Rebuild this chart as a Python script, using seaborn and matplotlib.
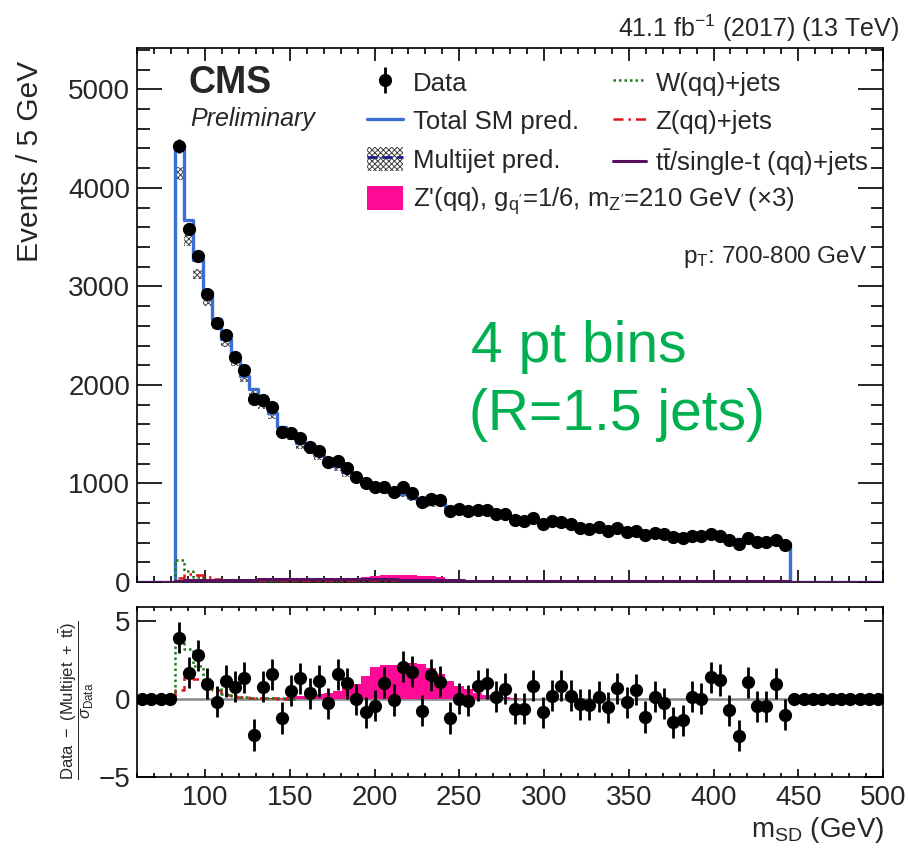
import numpy as np
import matplotlib
matplotlib.use("Agg")
import matplotlib.pyplot as plt
import seaborn as sns
from matplotlib.patches import Patch
from matplotlib.lines import Line2D
from matplotlib.ticker import MultipleLocator, NullLocator

# ---------------- data ----------------
bin_lo, bin_width, n_bins = 60.0, 5.5, 80     # m_SD binning of the axis
first_bin = 4                                  # first filled bin (82 GeV)

data = [4425, 3582, 3308, 2923, 2625, 2510, 2287, 2151, 1854, 1847,
        1779, 1525, 1515, 1458, 1367, 1333, 1221, 1231, 1154, 1069,
        1001, 961, 967, 916, 961, 906, 808, 842, 832, 724,
        744, 717, 731, 731, 690, 687, 629, 622, 653, 585,
        619, 605, 585, 551, 541, 555, 521, 551, 504, 521,
        474, 494, 484, 457, 443, 467, 467, 490, 470, 426,
        386, 443, 409, 406, 426, 375]

multijet = [4149, 3464, 3128, 2849, 2613, 2429, 2225, 2063, 1928, 1786,
            1684, 1544, 1465, 1377, 1322, 1258, 1197, 1141, 1085, 1036,
            996, 944, 906, 892, 872, 831, 809, 778, 781, 740,
            727, 704, 693, 689, 672, 657, 632, 625, 619, 593,
            602, 573, 568, 549, 539, 541, 523, 526, 499, 498,
            490, 482, 482, 481, 464, 455, 460, 452, 436, 434,
            425, 414, 412, 409, 400, 388]

top_jets = [14, 16, 18, 20, 21, 22, 23, 24, 25, 26, 27, 28, 29, 30, 31, 32,
            33, 34, 34, 33, 32, 30, 28, 26, 24, 22, 20, 19, 18, 17, 16, 15,
            15, 14, 14, 13, 13, 12, 12, 12, 11, 11, 11, 10, 10, 10, 10, 9,
            9, 9, 9, 8, 8, 8, 8, 8, 7, 7, 7, 7, 7, 6, 6, 6, 6, 6]

w_jets = [219, 107, 46, 16, 7, 3, 2, 1, 1, 1, 1, 1]      # bins 4..15
z_jets = [40, 84, 75, 54, 31, 14, 7, 5, 3, 2, 2, 1]      # bins 4..15

signal_first_bin = 14
signal_x3 = [2, 3, 5, 7, 9, 12, 13, 19, 27, 31, 47, 65, 68, 67, 71, 69,
             64, 59, 46, 31, 23, 17, 11, 8, 5, 3, 2, 1]

pulls = [3.94, 1.70, 2.81, 1.00, -0.17, 1.17, 0.81, 1.38, -2.30, 0.81,
         1.60, -1.21, 0.53, 1.34, 0.38, 1.17, -0.26, 1.60, 1.02, 0.00,
         -0.85, -0.43, 1.06, -0.05, 2.09, 1.77, -0.74, 1.55, 1.13, -1.21,
         0.02, -0.09, 0.85, 1.02, 0.17, 0.66, -0.62, -0.62, 0.85, -0.83,
         0.23, 0.85, 0.23, -0.32, -0.36, 0.17, -0.51, 0.70, -0.19, 0.60,
         -1.15, 0.17, -0.26, -1.49, -1.36, 0.17, 0.02, 1.40, 1.23, -0.72,
         -2.34, 1.09, -0.47, -0.47, 0.98, -1.00]

mj_rel_unc = 0.016
x_ticks = [100, 150, 200, 250, 300, 350, 400, 450, 500]

# ---------------- style ----------------
sns.set_theme(style="ticks")
plt.rcParams["font.family"] = ["Liberation Sans", "DejaVu Sans"]
plt.rcParams["mathtext.fontset"] = "custom"
plt.rcParams["mathtext.rm"] = "Liberation Sans"
plt.rcParams["mathtext.it"] = "Liberation Sans:italic"
plt.rcParams["mathtext.bf"] = "Liberation Sans:bold"
plt.rcParams["mathtext.sf"] = "Liberation Sans"
plt.rcParams["hatch.linewidth"] = 0.7
plt.rcParams["axes.edgecolor"] = "black"
plt.rcParams["axes.linewidth"] = 1.2

BLUE = "#3b6fd4"
PINK = "#ff0a96"
GREEN = "#1f7a1f"
RED = "#e0141a"
PURPLE = "#5a0f5e"

# ---------------- arrays ----------------
edges = bin_lo + bin_width * np.arange(n_bins + 1)
centers = 0.5 * (edges[:-1] + edges[1:])
edge_list = edges.tolist()
nd = len(data)
sl = slice(first_bin, first_bin + nd)

data_a = np.array(data, float)
sigma = np.sqrt(data_a)

def full(vals, start):
    arr = np.zeros(n_bins)
    arr[start:start + len(vals)] = vals
    return arr

mj_f = full(multijet, first_bin)
tt_f = full(top_jets, first_bin)
w_f = full(w_jets, first_bin)
z_f = full(z_jets, first_bin)
sig_f = full(signal_x3, signal_first_bin)
total_f = mj_f + tt_f + w_f + z_f

sigma_f = np.ones(n_bins)
sigma_f[sl] = sigma
pull_f = full(pulls, first_bin)
pull_err = np.zeros(n_bins)
pull_err[sl] = 1.0
sig_pull_f = sig_f / sigma_f
wz_pull_f = (w_f + z_f) / sigma_f
z_pull_f = z_f / sigma_f

# ---------------- figure ----------------
W, H = 909, 852
fig = plt.figure(figsize=(W / 100, H / 100), dpi=100)
def fx(p): return p / W
def fy(p): return 1 - p / H

ax = fig.add_axes([fx(137.3), fy(582), fx(883) - fx(137.3), fy(48) - fy(582)])
ax2 = fig.add_axes([fx(137.3), fy(777), fx(883) - fx(137.3), fy(607) - fy(777)])

def step(axis, w, bins, x=None, **kw):
    xx = centers if x is None else x
    sns.histplot(x=xx, weights=w, bins=bins, element="step", ax=axis, **kw)

# main panel
step(ax, sig_f, edge_list, fill=True, color=PINK, alpha=1, linewidth=0, zorder=2)
ax.bar(centers[sl], 2 * mj_rel_unc * np.array(multijet), bottom=np.array(multijet) * (1 - mj_rel_unc),
       width=bin_width, facecolor="white", edgecolor="0.25", hatch="xxxxxx", linewidth=0, zorder=3)
step(ax, total_f, edge_list, fill=False, color=BLUE, linewidth=2.4, zorder=4)
step(ax, w_f, edge_list, fill=False, color=GREEN, linewidth=1.8, linestyle=(0, (1, 1.2)), zorder=5)
step(ax, z_f, edge_list, fill=False, color=RED, linewidth=1.8, linestyle=(0, (4, 2, 1, 2)), zorder=5)
step(ax, tt_f, edge_list, fill=False, color=PURPLE, linewidth=2.2, zorder=6)
data_h = ax.errorbar(centers[sl], data_a, yerr=sigma, fmt="o", color="black",
                     ms=8.5, elinewidth=2, capsize=0, zorder=7)

ax.set_xlim(bin_lo, edges[-1])
ax.set_ylim(0, 5420)
ax.set_xlabel("")
ax.set_ylabel("Events / 5 GeV", fontsize=21.5)
ax.yaxis.set_label_coords(-0.125, 0.788)
ax.xaxis.set_major_locator(MultipleLocator(50))
ax.xaxis.set_minor_locator(MultipleLocator(10))
ax.yaxis.set_major_locator(MultipleLocator(1000))
ax.yaxis.set_minor_locator(MultipleLocator(200))
ax.tick_params(axis="both", which="both", direction="in", top=True, right=True, width=1.2, color="black")
ax.tick_params(axis="x", which="major", length=9, labelbottom=False)
ax.tick_params(axis="x", which="minor", length=4.5)
ax.tick_params(axis="y", which="major", length=18, labelsize=20, pad=5)
ax.tick_params(axis="y", which="minor", length=9)

# ratio panel
ax2.axhline(0, color="#888888", lw=1.8, zorder=1)
step(ax2, sig_pull_f, edge_list, fill=True, color=PINK, alpha=1, linewidth=0, zorder=2)
i0, i1 = first_bin - 1, first_bin + len(w_jets) + 1
sub_edges = edges[i0:i1 + 1].tolist()
step(ax2, wz_pull_f[i0:i1], sub_edges, x=centers[i0:i1], fill=False, color=GREEN,
     linewidth=1.8, linestyle=(0, (1, 1.2)), zorder=4)
step(ax2, z_pull_f[i0:i1], sub_edges, x=centers[i0:i1], fill=False, color=RED,
     linewidth=1.8, linestyle=(0, (3, 2)), zorder=3)
ax2.errorbar(centers, pull_f, yerr=pull_err, fmt="o", color="black",
             ms=8.5, elinewidth=2, capsize=0, zorder=6)

ax2.set_xlim(bin_lo, edges[-1])
ax2.set_ylim(-5, 5.92)
ax2.set_xticks(x_ticks)
ax2.set_xticklabels([str(t) for t in x_ticks])
ax2.xaxis.set_minor_locator(MultipleLocator(10))
ax2.set_yticks([-5, 0, 5])
ax2.set_yticklabels(["\u22125", "0", "5"])
ax2.yaxis.set_minor_locator(NullLocator())
ax2.tick_params(axis="both", which="both", direction="in", top=True, right=True, width=1.2, color="black")
ax2.tick_params(axis="x", which="major", length=6, labelsize=20, pad=6)
ax2.tick_params(axis="x", which="minor", length=3)
ax2.tick_params(axis="y", which="major", length=14, labelsize=20, pad=5)
ax2.set_xlabel("")
ax2.set_ylabel(r"$\dfrac{\mathrm{Data\ -\ (Multijet\ +\ t\bar{t})}}{\sigma_{\mathrm{Data}}}$", fontsize=12)
ax2.yaxis.set_label_coords(-0.055, 0.45)

# texts
fig.text(fx(884), fy(830), r"m$_{\mathrm{SD}}$ (GeV)", ha="right", va="center", fontsize=20)
fig.text(fx(899), fy(28), r"41.1 fb$^{-1}$ (2017) (13 TeV)", ha="right", va="center", fontsize=18)
fig.text(fx(188), fy(83), "CMS", ha="left", va="center", fontsize=27, fontweight="bold")
fig.text(fx(190), fy(119), "Preliminary", ha="left", va="center", fontsize=18, fontstyle="italic")
fig.text(fx(867), fy(257), r"p$_{\mathrm{T}}$: 700-800 GeV", ha="right", va="center", fontsize=17.5)
fig.text(fx(471), fy(362), "4 pt bins", ha="left", va="baseline", fontsize=41, color="#00b050")
fig.text(fx(469), fy(430), "(R=1.5 jets)", ha="left", va="baseline", fontsize=41, color="#00b050")

# legend
mj_handle = (Patch(facecolor="white", edgecolor="0.25", hatch="xxxxxx", linewidth=0),
             Line2D([], [], color="#1a1a8c", ls="--", lw=2))
h1 = [data_h, Line2D([], [], color=BLUE, lw=2.4), mj_handle, Patch(facecolor=PINK, linewidth=0)]
l1 = ["Data", "Total SM pred.", "Multijet pred.",
      "Z'(qq), g$_{\\mathrm{q'}}$=1/6, m$_{\\mathrm{Z'}}$=210 GeV (\u00d73)"]
leg1 = fig.legend(h1, l1, loc="upper left", bbox_to_anchor=(fx(367), fy(70)), frameon=False,
                  fontsize=18.5, handlelength=1.4, handleheight=1.05, handletextpad=0.4,
                  labelspacing=0.5, borderpad=0, borderaxespad=0)
h2 = [Line2D([], [], color=GREEN, lw=1.8, ls=(0, (1, 1.2))),
      Line2D([], [], color=RED, lw=1.8, ls=(0, (4, 2, 1, 2))),
      Line2D([], [], color=PURPLE, lw=2.2)]
l2 = ["W(qq)+jets", "Z(qq)+jets", r"t$\bar{\mathrm{t}}$/single-t (qq)+jets"]
leg2 = fig.legend(h2, l2, loc="upper left", bbox_to_anchor=(fx(613), fy(70)), frameon=False,
                  fontsize=18.5, handlelength=1.3, handleheight=1.05, handletextpad=0.35,
                  labelspacing=0.5, borderpad=0, borderaxespad=0)

fig.savefig("out.png", dpi=100)
